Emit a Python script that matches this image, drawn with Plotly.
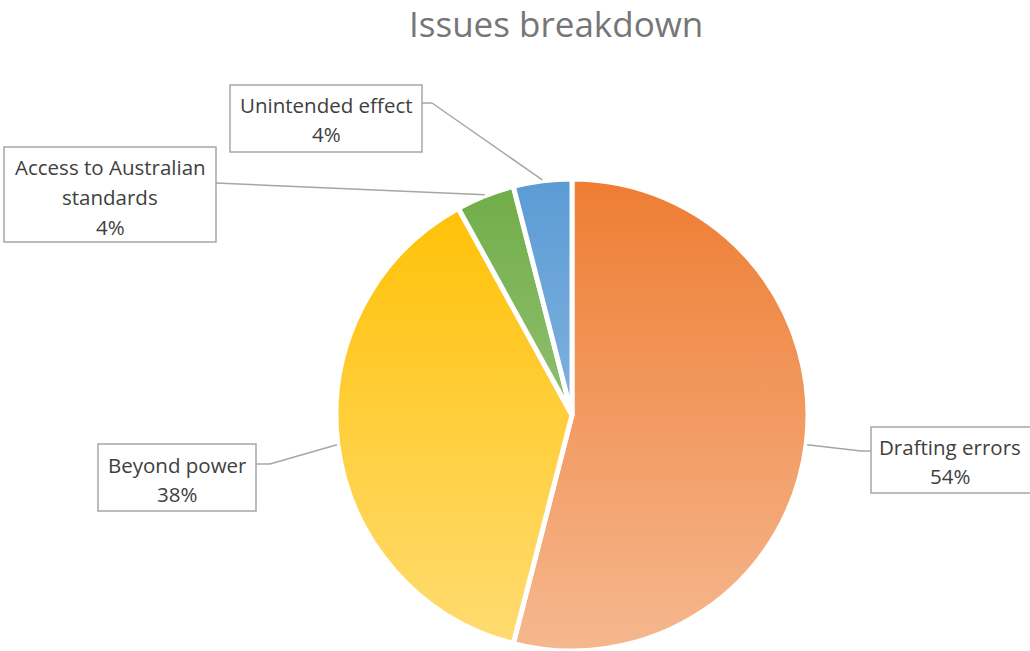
import math
import base64
import plotly.graph_objects as go

# ---- data ----
categories = ["Drafting errors", "Beyond power", "Access to Australian standards", "Unintended effect"]
values = [54, 38, 4, 4]
display_names = [["Drafting errors"], ["Beyond power"], ["Access to Australian", "standards"], ["Unintended effect"]]
colors = ["#EE7D33", "#FFC000", "#70AD47", "#5B9BD5"]

W, H = 1030, 651
CX, CY, R = 572, 415, 236  # pie centre / radius in pixels

def px_x(x):
    return x / W

def px_y(y):
    return 1 - y / H

dom_x = [px_x(CX - R), px_x(CX + R)]
dom_y = [px_y(CY + R), px_y(CY - R)]

fig = go.Figure(go.Pie(
    labels=categories,
    values=values,
    sort=False,
    direction="clockwise",
    rotation=0,
    textinfo="none",
    hoverinfo="label+percent",
    marker=dict(colors=colors, line=dict(color="white", width=5)),
    domain=dict(x=dom_x, y=dom_y),
    showlegend=False,
))

# gradient overlay (lighter toward bottom)
svg = ('<svg xmlns="http://www.w3.org/2000/svg" viewBox="0 0 100 100" width="100" height="100" '
       'preserveAspectRatio="none"><defs><linearGradient id="g" x1="0" y1="0" x2="0" y2="1">'
       '<stop offset="0" stop-color="white" stop-opacity="0"/>'
       '<stop offset="1" stop-color="white" stop-opacity="0.45"/></linearGradient></defs>'
       '<rect width="100" height="100" fill="url(#g)"/></svg>')
src = "data:image/svg+xml;base64," + base64.b64encode(svg.encode()).decode()
fig.add_layout_image(dict(source=src, xref="paper", yref="paper",
                          x=dom_x[0], y=dom_y[1], sizex=dom_x[1] - dom_x[0], sizey=dom_y[1] - dom_y[0],
                          xanchor="left", yanchor="top", sizing="stretch", layer="above", opacity=1))

# label boxes (pixel layout)
boxes = [
    dict(box=(871, 427, 1040, 493), lines=[447, 476], side="left", elbow=861, ly=451, tx=950),
    dict(box=(98, 444, 256, 511), lines=[465, 494], side="right", elbow=270, ly=464, tx=177),
    dict(box=(4, 147, 216, 242), lines=[167, 197, 227], side="right", elbow=None, ly=183, tx=110),
    dict(box=(230, 85, 422, 152), lines=[105, 134], side="right", elbow=432, ly=103, tx=326),
]

total = sum(values)
cum = 0
line_col = "#A6A6A6"
text_col = "#404040"
font_fam = "Open Sans"
for i, v in enumerate(values):
    mid = (cum + v / 2) / total * 2 * math.pi
    cum += v
    ex = CX + (R + 1) * math.sin(mid)
    ey = CY - (R + 1) * math.cos(mid)
    b = boxes[i]
    x0, y0, x1, y1 = b["box"]
    ly = b["ly"]
    bx = x0 if b["side"] == "left" else x1
    pts = [(bx, ly)]
    if b["elbow"] is not None:
        pts.append((b["elbow"], ly))
    pts.append((ex, ey))
    for (ax_, ay_), (bx_, by_) in zip(pts[:-1], pts[1:]):
        fig.add_shape(type="line", xref="paper", yref="paper",
                      x0=px_x(ax_), y0=px_y(ay_), x1=px_x(bx_), y1=px_y(by_),
                      line=dict(color=line_col, width=1.5))
    fig.add_shape(type="rect", xref="paper", yref="paper",
                  x0=px_x(x0), y0=px_y(y1), x1=px_x(x1), y1=px_y(y0),
                  line=dict(color=line_col, width=1.5), fillcolor="white")
    texts = display_names[i] + [f"{round(v / total * 100)}%"]
    for t, yy in zip(texts, b["lines"]):
        fig.add_annotation(text=t, xref="paper", yref="paper", x=px_x(b["tx"]), y=px_y(yy),
                           xanchor="center", yanchor="middle", showarrow=False,
                           font=dict(family=font_fam, size=20.5, color=text_col))

fig.add_annotation(text="Issues breakdown", xref="paper", yref="paper", x=px_x(556), y=px_y(23),
                   xanchor="center", yanchor="middle", showarrow=False,
                   font=dict(family=font_fam, size=35, color="#767676"))

fig.update_layout(width=W, height=H, margin=dict(l=0, r=0, t=0, b=0),
                  paper_bgcolor="white", plot_bgcolor="white")

fig.write_html("out.html", config={"displayModeBar": False},
               post_script="document.body.style.margin='0';document.body.style.overflow='hidden';")
